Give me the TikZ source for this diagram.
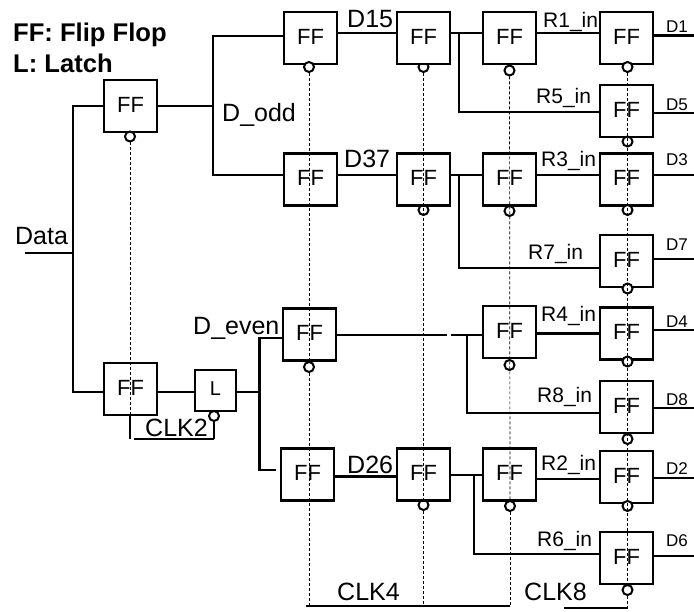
\documentclass[tikz,border=0pt]{standalone}
\usepackage{fontspec}
\setmainfont{Liberation Sans}
\usepackage{xcolor}
\usepackage{tikz}
\usetikzlibrary{positioning, calc}
\tikzset{
    ffbox/.style = {rectangle, draw=black, fill=white, line width=2.2pt, outer sep=0pt, inner sep=0pt,
                    minimum width=53pt, minimum height=52pt, text depth=3pt,
                    font=\fontsize{22}{24}\selectfont},
    latchbox/.style = {ffbox, minimum width=41pt, minimum height=41pt,
                       font=\fontsize{20}{22}\selectfont},
    bubble/.style = {circle, draw=black, fill=white, line width=2pt, inner sep=0pt,
                     minimum size=10pt},
    wire/.style = {draw=black, line width=2.2pt},
    clockline/.style = {draw=black, line width=0.7pt, dash pattern=on 3pt off 2pt},
    biglabel/.style = {anchor=base west, inner sep=0pt, font=\fontsize{25}{28}\selectfont},
    rlabel/.style = {anchor=base west, inner sep=0pt, font=\fontsize{21}{24}\selectfont},
    dlabel/.style = {anchor=base west, inner sep=0pt, font=\fontsize{17}{20}\selectfont},
    keylabel/.style = {anchor=base west, inner sep=0pt, font=\fontsize{25.6}{28}\bfseries\selectfont},
}
\begin{document}
\begin{tikzpicture}[x=1pt, y=-1pt]
        \useasboundingbox (0,0) rectangle (694,612);

        \node[bubble] (b3a) at (423.5,67) {};
        \node[bubble] (b3b) at (423.5,210) {};
        \node[bubble] (b3c) at (423.5,505) {};

        \node[ffbox] (ffa) at (130.5,106) {FF};
        \node[ffbox] (ffb) at (130.5,389) {FF};
        \node[latchbox] (lat) at (215.5,390.5) {L};

        \node[ffbox] (c2a) at (310.5,38) {FF};
        \node[ffbox] (c2b) at (310.5,179.5) {FF};
        \node[ffbox] (c2c) at (309.5,334.5) {FF};
        \node[ffbox] (c2d) at (307.5,474.5) {FF};

        \node[ffbox] (c3a) at (423.5,38) {FF};
        \node[ffbox] (c3b) at (423.5,179.5) {FF};
        \node[ffbox] (c3c) at (423.5,474.5) {FF};

        \node[ffbox] (c4a) at (509.5,38) {FF};
        \node[ffbox] (c4b) at (509.5,179.5) {FF};
        \node[ffbox] (c4c) at (509.5,332) {FF};
        \node[ffbox] (c4d) at (509.5,474.5) {FF};

        \node[ffbox] (c5a) at (626.5,38) {FF};
        \node[ffbox] (c5b) at (626.5,111) {FF};
        \node[ffbox] (c5c) at (626.5,179.5) {FF};
        \node[ffbox] (c5d) at (626.5,261) {FF};
        \node[ffbox] (c5e) at (626.5,333.5) {FF};
        \node[ffbox] (c5f) at (626.5,407) {FF};
        \node[ffbox] (c5g) at (626.5,477) {FF};
        \node[ffbox] (c5h) at (626.5,558) {FF};

        \coordinate (datain) at (25,253);
        \coordinate (databus) at (73,253);
        \coordinate (oddbus) at (213,106);
        \coordinate (evenbus) at (259.5,392);
        \coordinate (evenend) at (276,470);
        \coordinate (br15) at (459,33);
        \coordinate (br37) at (459,175);
        \coordinate (gapl) at (447,335);
        \coordinate (gapr) at (451,335);
        \coordinate (br48) at (467,335);
        \coordinate (br26) at (474,475);
        \coordinate (out1) at (694,35.5);
        \coordinate (out5) at (694,113);
        \coordinate (out3) at (694,175);
        \coordinate (out7) at (694,259);
        \coordinate (out4) at (694,330);
        \coordinate (out8) at (694,408);
        \coordinate (out2) at (694,478);
        \coordinate (out6) at (694,556);

        \draw[wire] (datain) -- (databus);
        \draw[wire] (ffa.west) -| (databus);
        \draw[wire] ([yshift=-3pt]ffb.west) -| (databus);
        \draw[wire] (ffa.east) -- (oddbus);
        \draw[wire] ([yshift=2pt]c2a.west) -| (oddbus);
        \draw[wire] ([yshift=4.5pt]c2b.west) -| (oddbus);
        \draw[wire] ([yshift=-3pt]ffb.east) -- ([yshift=-1.5pt]lat.west);
        \draw[wire] ([yshift=-1.5pt]lat.east) -- (evenbus);
        \draw[wire] ([yshift=-3.5pt]c2c.west) -| (evenbus);
        \draw[wire] (evenend) -| (evenbus);

        \draw[wire] ([yshift=5pt]c2a.east) -- ([yshift=5pt]c3a.west);
        \draw[wire] ([yshift=4.5pt]c2b.east) -- ([yshift=4.5pt]c3b.west);
        \draw[wire] (c2c.east |- gapl) -- (gapl);
        \draw[wire] ([yshift=-2pt]c2d.east) -- ([yshift=-2pt]c3c.west);

        \draw[wire] ([yshift=5pt]c3a.east) -- ([yshift=5pt]c4a.west);
        \draw[wire] ([yshift=4.5pt]c3b.east) -- ([yshift=4.5pt]c4b.west);
        \draw[wire] (gapr) -- (c4c.west |- gapr);
        \draw[wire] ([yshift=-0.5pt]c3c.east) -- ([yshift=-0.5pt]c4d.west);

        \draw[wire] ([yshift=-1pt]c5b.west) -| (br15);
        \draw[wire] ([yshift=-7pt]c5d.west) -| (br37);
        \draw[wire] ([yshift=-6pt]c5f.west) -| (br48);
        \draw[wire] ([yshift=4pt]c5h.west) -| (br26);

        \draw[wire] ([yshift=5pt]c4a.east) -- ([yshift=5pt]c5a.west);
        \draw[wire] ([yshift=4.5pt]c4b.east) -- ([yshift=4.5pt]c5c.west);
        \draw[wire] (c4c.east |- c5e.west) -- (c5e.west);
        \draw[wire] ([yshift=-4.5pt]c4d.east) -- ([yshift=-2pt]c5g.west);

        \draw[wire] (c5a.east |- out1) -- (out1);
        \draw[wire] (c5b.east |- out5) -- (out5);
        \draw[wire] (c5c.east |- out3) -- (out3);
        \draw[wire] (c5d.east |- out7) -- (out7);
        \draw[wire] (c5e.east |- out4) -- (out4);
        \draw[wire] (c5f.east |- out8) -- (out8);
        \draw[wire] (c5g.east |- out2) -- (out2);
        \draw[wire] (c5h.east |- out6) -- (out6);

        \coordinate (clk2a) at (130,439);
        \coordinate (clk2b) at (134,439);
        \coordinate (clk2c) at (214,439);
        \coordinate (clk4a) at (306,606);
        \coordinate (clk4b) at (510,606);
        \coordinate (clk8a) at (564,608);
        \coordinate (clk8b) at (627.5,608);

        \node[bubble] (b1a) at (130,136.5) {};
        \node[bubble] (bl) at (214,416) {};
        \node[bubble] (b2a) at (309,67) {};
        \node[bubble] (b2c) at (309,367) {};
        \node[bubble] (b4a) at (509.5,70.5) {};
        \node[bubble] (b4b) at (509.5,211) {};
        \node[bubble] (b4c) at (509.5,365) {};
        \node[bubble] (b4d) at (510,506) {};
        \node[bubble] (b5a) at (627.5,67) {};
        \node[bubble] (b5b) at (627.5,141.5) {};
        \node[bubble] (b5c) at (627.5,210) {};
        \node[bubble] (b5d) at (627.5,288.5) {};
        \node[bubble] (b5e) at (627.5,361.5) {};
        \node[bubble] (b5f) at (627.5,439) {};
        \node[bubble] (b5g) at (627.5,506) {};
        \node[bubble] (b5h) at (627.5,590) {};

        \draw[clockline] (b1a) -- (ffb.south -| b1a);
        \draw[clockline] (b2a) -- (b2c);
        \draw[clockline] (b2c) -- (b2c |- clk4a);
        \draw[clockline] (b3a) -- (b3c);
        \draw[clockline] (b3c) -- (b3c |- clk4a);
        \draw[clockline] (b4a) -- (b4d);
        \draw[clockline] (b4d) -- (b4d |- clk4b);
        \draw[clockline] (b5a) -- (b5h);
        \draw[clockline] (b5h) -- (clk8b);

        \draw[wire] (ffb.south -| clk2a) -- (clk2a);
        \draw[wire] (clk2b) -- (clk2c);
        \draw[wire] (bl) -- (clk2c);
        \draw[wire] (clk4a) -- (clk4b);
        \draw[wire] (clk8a) -- (clk8b);

        \node[keylabel] (keyff) at (13,41.5) {FF: Flip Flop};
        \node[keylabel] (keyl) at (13,73) {L: Latch};
        \node[biglabel] (ldata) at (15,245) {Data};
        \node[biglabel] (lodd) at (222,121.5) {D\_odd};
        \node[biglabel] (leven) at (193,335) {D\_even};
        \node[biglabel] (ld15) at (347,28) {D15};
        \node[biglabel] (ld37) at (344,168) {D37};
        \node[biglabel] (ld26) at (347,473) {D26};
        \node[biglabel] (lclk2) at (145,437) {CLK2};
        \node[biglabel] (lclk4) at (337,600) {CLK4};
        \node[biglabel] (lclk8) at (524,600) {CLK8};

        \node[rlabel] (lr1) at (543,28) {R1\_in};
        \node[rlabel] (lr5) at (536,104) {R5\_in};
        \node[rlabel] (lr3) at (541,167) {R3\_in};
        \node[rlabel] (lr7) at (528,260) {R7\_in};
        \node[rlabel] (lr4) at (541,322) {R4\_in};
        \node[rlabel] (lr8) at (537,403) {R8\_in};
        \node[rlabel] (lr2) at (541,471) {R2\_in};
        \node[rlabel] (lr6) at (537,546) {R6\_in};

        \node[dlabel] (ld1) at (666,33) {D1};
        \node[dlabel] (ld5) at (666,111) {D5};
        \node[dlabel] (ld3) at (666,166) {D3};
        \node[dlabel] (ld7) at (666,251) {D7};
        \node[dlabel] (ld4) at (666,328) {D4};
        \node[dlabel] (ld8) at (666,406) {D8};
        \node[dlabel] (ld2) at (666,475) {D2};
        \node[dlabel] (ld6) at (666,546) {D6};
      \end{tikzpicture}
\end{document}
